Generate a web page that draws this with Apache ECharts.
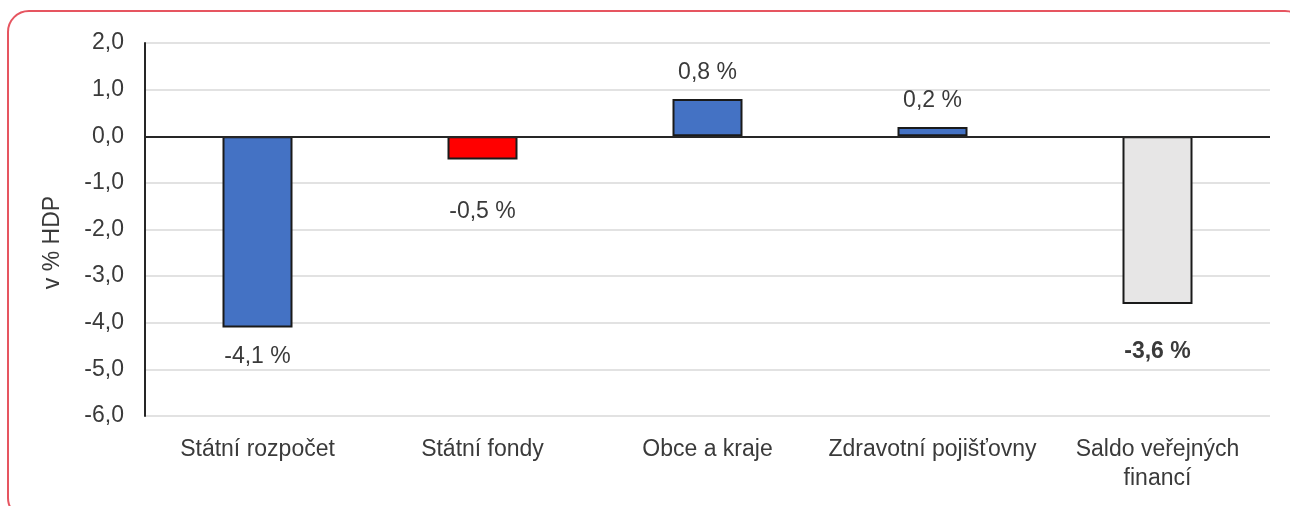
<!DOCTYPE html>
<html lang="cs">
<head>
    <meta charset="UTF-8">
    <title>Saldo</title>
    <script src="https://cdn.jsdelivr.net/npm/echarts@6/dist/echarts.min.js"></script>
    <style>
        html, body { margin: 0; padding: 0; overflow: hidden; background: #fff; }
        #frame {
            position: absolute; left: 7px; top: 10px; width: 1300px; height: 510px;
            border: 2px solid #e65560; border-radius: 22px; box-sizing: border-box;
        }
        #main { position: absolute; left: 0; top: 0; width: 1290px; height: 506px; }
    </style>
</head>
<body>
    <div id="frame"></div>
    <div id="main"></div>
<script>
    // data
    var categories = ['Státní rozpočet', 'Státní fondy', 'Obce a kraje', 'Zdravotní pojišťovny', 'Saldo veřejných\nfinancí'];
    var values = [-4.1, -0.5, 0.8, 0.2, -3.6];
    var barColors = ['#4472c4', '#ff0000', '#4472c4', '#4472c4', '#e7e6e6'];
    // vzdalenost popisku od konce sloupce (rucne posunute jako v Excelu)
    var labelGap = [18, 41, 15, 15, 36];

    var myChart = echarts.init(document.getElementById('main'));
    var font = 'Liberation Sans, Arial, sans-serif';
    var txt = '#3a3a3a';

    function fmt(v) {
        return v.toFixed(1).replace('.', ',');
    }

    var seriesData = values.map(function (v, i) {
        return {
            value: v,
            itemStyle: { color: barColors[i] },
            label: {
                position: v < 0 ? 'bottom' : 'top',
                distance: labelGap[i],
                fontWeight: i === values.length - 1 ? 'bold' : 'normal'
            }
        };
    });

    var option = {
        animation: false,
        grid: { left: 145, right: 20, top: 43, bottom: 90 },
        xAxis: {
            type: 'category',
            data: categories,
            axisLine: { onZero: false, show: false },
            axisTick: { show: false },
            axisLabel: {
                color: txt,
                fontFamily: font,
                fontSize: 23,
                lineHeight: 29,
                margin: 19,
                interval: 0
            }
        },
        yAxis: {
            type: 'value',
            min: -6,
            max: 2,
            interval: 1,
            name: 'v % HDP',
            nameLocation: 'middle',
            nameRotate: 90,
            nameGap: 81,
            nameTextStyle: { color: txt, fontFamily: font, fontSize: 23, padding: [0, 26, 0, 0] },
            axisLine: { show: true, lineStyle: { color: '#262626', width: 2 } },
            axisTick: { show: false },
            axisLabel: {
                color: txt,
                fontFamily: font,
                fontSize: 23,
                margin: 21,
                formatter: function (v) { return fmt(v); }
            },
            splitLine: { lineStyle: { color: '#d9d9d9', width: 1.5 } }
        },
        series: [{
            type: 'bar',
            data: seriesData,
            barWidth: 70,
            itemStyle: { borderColor: '#1a1a1a', borderWidth: 2 },
            label: {
                show: true,
                color: txt,
                fontFamily: font,
                fontSize: 23,
                formatter: function (p) { return fmt(p.value) + ' %'; }
            },
            markLine: {
                silent: true,
                symbol: 'none',
                label: { show: false },
                lineStyle: { color: '#262626', width: 2, type: 'solid' },
                data: [{ yAxis: 0 }]
            }
        }]
    };

    myChart.setOption(option);
</script>
</body>
</html>
